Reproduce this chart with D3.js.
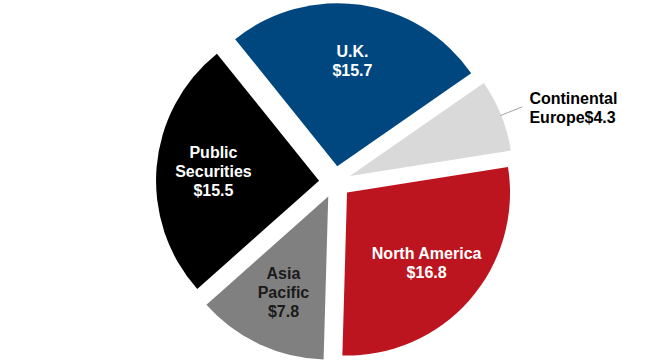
<!DOCTYPE html>
<html>
<head>
<meta charset="utf-8">
<script src="https://cdn.jsdelivr.net/npm/d3@7"></script>
<style>
  html, body { margin: 0; padding: 0; background: #fff; }
  svg { display: block; font-family: "Liberation Sans", Arial, sans-serif; }
</style>
</head>
<body>
<svg id="chart" width="672" height="364"></svg>
<script>
// slices clockwise from the U.K. wedge
const regions = ['U.K.', 'Continental Europe', 'North America', 'Asia Pacific', 'Public Securities'];
const values  = [15.7, 4.3, 16.8, 7.8, 15.5];
const labelLines = [['U.K.', '$15.7'], ['Continental', 'Europe$4.3'], ['North America', '$16.8'],
                    ['Asia', 'Pacific', '$7.8'], ['Public', 'Securities', '$15.5']];
const colors = ['#00477f', '#d9d9d9', '#bd1520', '#808080', '#000000'];
const textColors = ['#fff', '#000', '#fff', '#1a1a1a', '#fff'];

const svg = d3.select('#chart');
const cx = 335, cy = 182, R = 163, explode = 16, labelR = 106;
const deg = Math.PI / 180;

const pie = d3.pie().sort(null).startAngle(-38.8 * deg).endAngle(321.2 * deg);
const arcs = pie(values);
const arc = d3.arc().innerRadius(0).outerRadius(R);

const g = svg.append('g').attr('transform', `translate(${cx},${cy})`);

function dir(a){ return [Math.sin(a), -Math.cos(a)]; }

const slice = g.selectAll('g.slice').data(arcs).join('g')
  .attr('class', 'slice')
  .attr('transform', d => {
    const m = (d.startAngle + d.endAngle) / 2, v = dir(m);
    return `translate(${v[0] * explode},${v[1] * explode})`;
  });

slice.append('path').attr('d', arc).attr('fill', (d, i) => colors[i]);

// inside labels (all but the small Continental Europe wedge)
slice.filter(d => d.index !== 1).each(function(d){
  const i = d.index;
  const m = (d.startAngle + d.endAngle) / 2, v = dir(m);
  const lines = labelLines[i], lh = 19;
  const t = d3.select(this).append('text')
    .attr('text-anchor', 'middle')
    .attr('font-size', 16).attr('font-weight', 'bold')
    .attr('fill', textColors[i]);
  lines.forEach((s, k) => {
    t.append('tspan')
      .attr('x', v[0] * labelR)
      .attr('y', v[1] * labelR + (k - (lines.length - 1) / 2) * lh + 5.5)
      .text(s);
  });
});

// outside label with leader for Continental Europe
const ce = arcs[1];
const cm = (ce.startAngle + ce.endAngle) / 2, cv = dir(cm);
const ceG = slice.filter(d => d.index === 1);
ceG.append('line')
  .attr('x1', cv[0] * (R - 1)).attr('y1', cv[1] * (R - 1))
  .attr('x2', cv[0] * (R + 23)).attr('y2', cv[1] * (R + 23))
  .attr('stroke', '#a6a6a6').attr('stroke-width', 1);
const ceT = ceG.append('text').attr('font-size', 16).attr('font-weight', 'bold').attr('fill', '#000');
labelLines[1].forEach((s, k) => {
  ceT.append('tspan')
    .attr('x', cv[0] * (R + 23) + 7)
    .attr('y', cv[1] * (R + 23) - 3 + k * 19)
    .text(s);
});
</script>
</body>
</html>
